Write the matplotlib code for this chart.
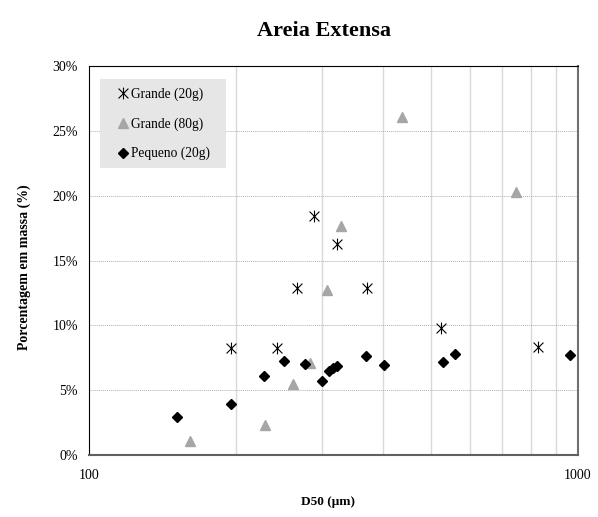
import matplotlib
matplotlib.use("Agg")
import matplotlib.pyplot as plt
from matplotlib.ticker import FixedLocator, FuncFormatter, NullFormatter
from matplotlib.path import Path
from matplotlib.patches import Rectangle

plt.rcParams['font.family'] = ['Liberation Serif', 'DejaVu Serif']

# Data (D50 in micrometres, percentage by mass)
g20_x = [195, 242, 289, 321, 266, 371, 525, 830]
g20_y = [8.25, 8.25, 18.4, 16.3, 12.9, 12.9, 9.8, 8.35]

g80_x = [436, 327, 306, 283, 261, 229, 161, 747]
g80_y = [26.1, 17.7, 12.7, 7.1, 5.45, 2.3, 1.05, 20.3]

p20_x = [151.5, 195, 228, 251, 276, 299, 309, 316, 322, 368, 402, 530, 560, 965]
p20_y = [2.9, 3.9, 6.1, 7.25, 7.0, 5.7, 6.45, 6.7, 6.85, 7.6, 6.95, 7.15, 7.8, 7.75]

labels = ["Grande (20g)", "Grande (80g)", "Pequeno (20g)"]
title = "Areia Extensa"
xlabel = "D50 (\u03bcm)"
ylabel = "Porcentagem em massa (%)"
yticks = [0, 5, 10, 15, 20, 25, 30]

# Excel-like star marker: X plus vertical bar
star = Path([(-1, -1), (1, 1), (-1, 1), (1, -1), (0, -1.2), (0, 1.2)],
            [Path.MOVETO, Path.LINETO, Path.MOVETO, Path.LINETO, Path.MOVETO, Path.LINETO])

fig = plt.figure(figsize=(5.98, 5.17), dpi=100)
ax = fig.add_axes([0.1488, 0.1199, 0.8178, 0.7524])

ax.set_xscale('log')
ax.set_xlim(100, 1000)
ax.set_ylim(0, 30)

ax.xaxis.set_major_locator(FixedLocator([100, 1000]))
ax.xaxis.set_major_formatter(FuncFormatter(lambda v, p: f"{int(round(v))}"))
ax.xaxis.set_minor_locator(FixedLocator([200, 300, 400, 500, 600, 700, 800, 900]))
ax.xaxis.set_minor_formatter(NullFormatter())
ax.set_yticks(yticks)
ax.yaxis.set_major_formatter(FuncFormatter(lambda v, p: f"{int(round(v))}%"))

ax.grid(which='minor', axis='x', color='#d9d9d9', linewidth=1.0, linestyle='-')
ax.grid(which='major', axis='y', color='#b0b0b0', linewidth=0.7, linestyle=(0, (1, 1)))
ax.set_axisbelow(True)

ax.tick_params(axis='both', which='both', length=0, labelsize=10, colors='black')
ax.tick_params(axis='x', pad=10)
ax.tick_params(axis='y', pad=8)

ax.spines['top'].set_color('black')
ax.spines['left'].set_color('black')
ax.spines['bottom'].set_color('#606060')
ax.spines['right'].set_color('#707070')
ax.spines['bottom'].set_linewidth(1.5)
ax.spines['right'].set_linewidth(1.5)

ax.plot(g20_x, g20_y, linestyle='none', marker=star, markersize=8.5,
        markeredgecolor='black', markeredgewidth=0.8, color='black', label=labels[0], zorder=3)
ax.plot(g80_x, g80_y, linestyle='none', marker='^', markersize=7.5,
        color='#a6a6a6', markeredgecolor='#a6a6a6', label=labels[1], zorder=3)
ax.plot(p20_x, p20_y, linestyle='none', marker='D', markersize=5.5,
        color='black', label=labels[2], zorder=4)

# legend background box
ax.add_patch(Rectangle((0.0225, 0.7378), 0.2577, 0.2288, transform=ax.transAxes,
                       facecolor='#e6e6e6', edgecolor='none', zorder=5))
leg = ax.legend(loc='upper left', bbox_to_anchor=(0.0587, 0.9447), frameon=False,
                fontsize=9.75, handlelength=0.8, handletextpad=0.2, labelspacing=1.2,
                borderpad=0, borderaxespad=0)
leg.set_zorder(6)

fig.text(0.541, 0.941, title, ha='center', va='center', fontsize=16, fontweight='bold')
fig.text(0.548, 0.029, xlabel, ha='center', va='center', fontsize=9.5, fontweight='bold')
fig.text(0.040, 0.484, ylabel, ha='center', va='center', fontsize=10, fontweight='bold', rotation=90)

fig.savefig("out.png", dpi=100)
